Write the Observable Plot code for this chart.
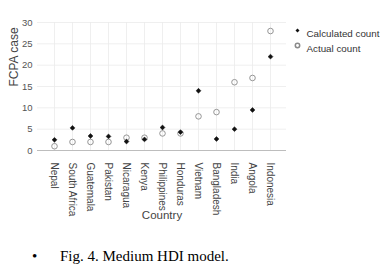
<!DOCTYPE html>
<html><head><meta charset="utf-8">
<script src="https://cdn.jsdelivr.net/npm/d3@7"></script>
<script src="https://cdn.jsdelivr.net/npm/@observablehq/plot@0.6"></script>
<style>
body{margin:0;background:#fff;width:382px;height:271px;overflow:hidden;position:relative}
#cap{position:absolute;left:0;top:247px;font-family:"Liberation Serif","Times New Roman",serif;font-size:15px;color:#000;white-space:nowrap;line-height:18px}
#cap .b{position:absolute;left:32px}
#cap .t{position:absolute;left:60px}
</style></head><body>
<div id="chart"></div>
<div id="cap"><span class="b">•</span><span class="t">Fig. 4. Medium HDI model.</span></div>
<script>
const countries = ["Nepal","South Africa","Guatemala","Pakistan","Nicaragua","Kenya","Philippines","Honduras","Vietnam","Bangladesh","India","Angola","Indonesia"];
const calculated = [2.5,5.3,3.4,3.3,2.1,2.6,5.4,4.3,14,2.7,5,9.5,22];
const actual = [1,2,2,2,3,3,4,4,8,9,16,17,28];
const yTicks = [0,5,10,15,20,25,30];
const seriesNames = ["Calculated count","Actual count"];

const rows = countries.map((c,i)=>({country:c, calc:calculated[i], act:actual[i]}));
const font = "Liberation Sans, Arial, sans-serif";

const plot = Plot.plot({
  width: 382, height: 240,
  marginLeft: 37, marginRight: 96, marginTop: 22, marginBottom: 90,
  style: {fontFamily: font, background: "#fff"},
  x: {type: "point", domain: countries, padding: 0.88, label: null, axis: null},
  y: {domain: [0,30], ticks: yTicks, label: null, axis: null},
  marks: [
    Plot.gridY(yTicks, {stroke: "#ebebeb", strokeOpacity: 1, strokeWidth: 0.8}),
    Plot.gridX(countries, {stroke: "#ebebeb", strokeOpacity: 1, strokeWidth: 0.8}),
    Plot.ruleY([0], {stroke: "#bdbdbd", strokeWidth: 1}),
    Plot.axisY(yTicks, {tickSize: 0, tickPadding: 5, fontSize: 9.5, fill: "#555", label: null}),
    Plot.axisX(countries, {tickSize: 0, tickRotate: 90, tickPadding: 12, fontSize: 10, fill: "#444", label: null}),
    Plot.text(["FCPA case"], {frameAnchor: "left", dx: -23, rotate: -90, fontSize: 12, fill: "#444"}),
    Plot.text(["Country"], {frameAnchor: "bottom", dy: 68, fontSize: 11.5, fill: "#444"}),
    Plot.dot(rows, {x: "country", y: "act", r: 2.8, stroke: "#8a8a8a", strokeWidth: 0.9, fill: "none"}),
    Plot.dot(rows, {x: "country", y: "calc", r: 2.2, symbol: "diamond2", fill: "#111", stroke: "#111", strokeWidth: 0.5}),
    Plot.dot([seriesNames[0]], {frameAnchor: "top-right", dx: 11, dy: 8, r: 1.8, symbol: "diamond2", fill: "#111"}),
    Plot.dot([seriesNames[1]], {frameAnchor: "top-right", dx: 11, dy: 23, r: 2.2, stroke: "#8a8a8a", fill: "none"}),
    Plot.text([seriesNames[0]], {frameAnchor: "top-right", dx: 20, dy: 8, text: d=>d, textAnchor: "start", fontSize: 9.8, fill: "#333"}),
    Plot.text([seriesNames[1]], {frameAnchor: "top-right", dx: 20, dy: 23, text: d=>d, textAnchor: "start", fontSize: 9.8, fill: "#333"})
  ]
});
document.getElementById("chart").appendChild(plot);
</script>
</body></html>
